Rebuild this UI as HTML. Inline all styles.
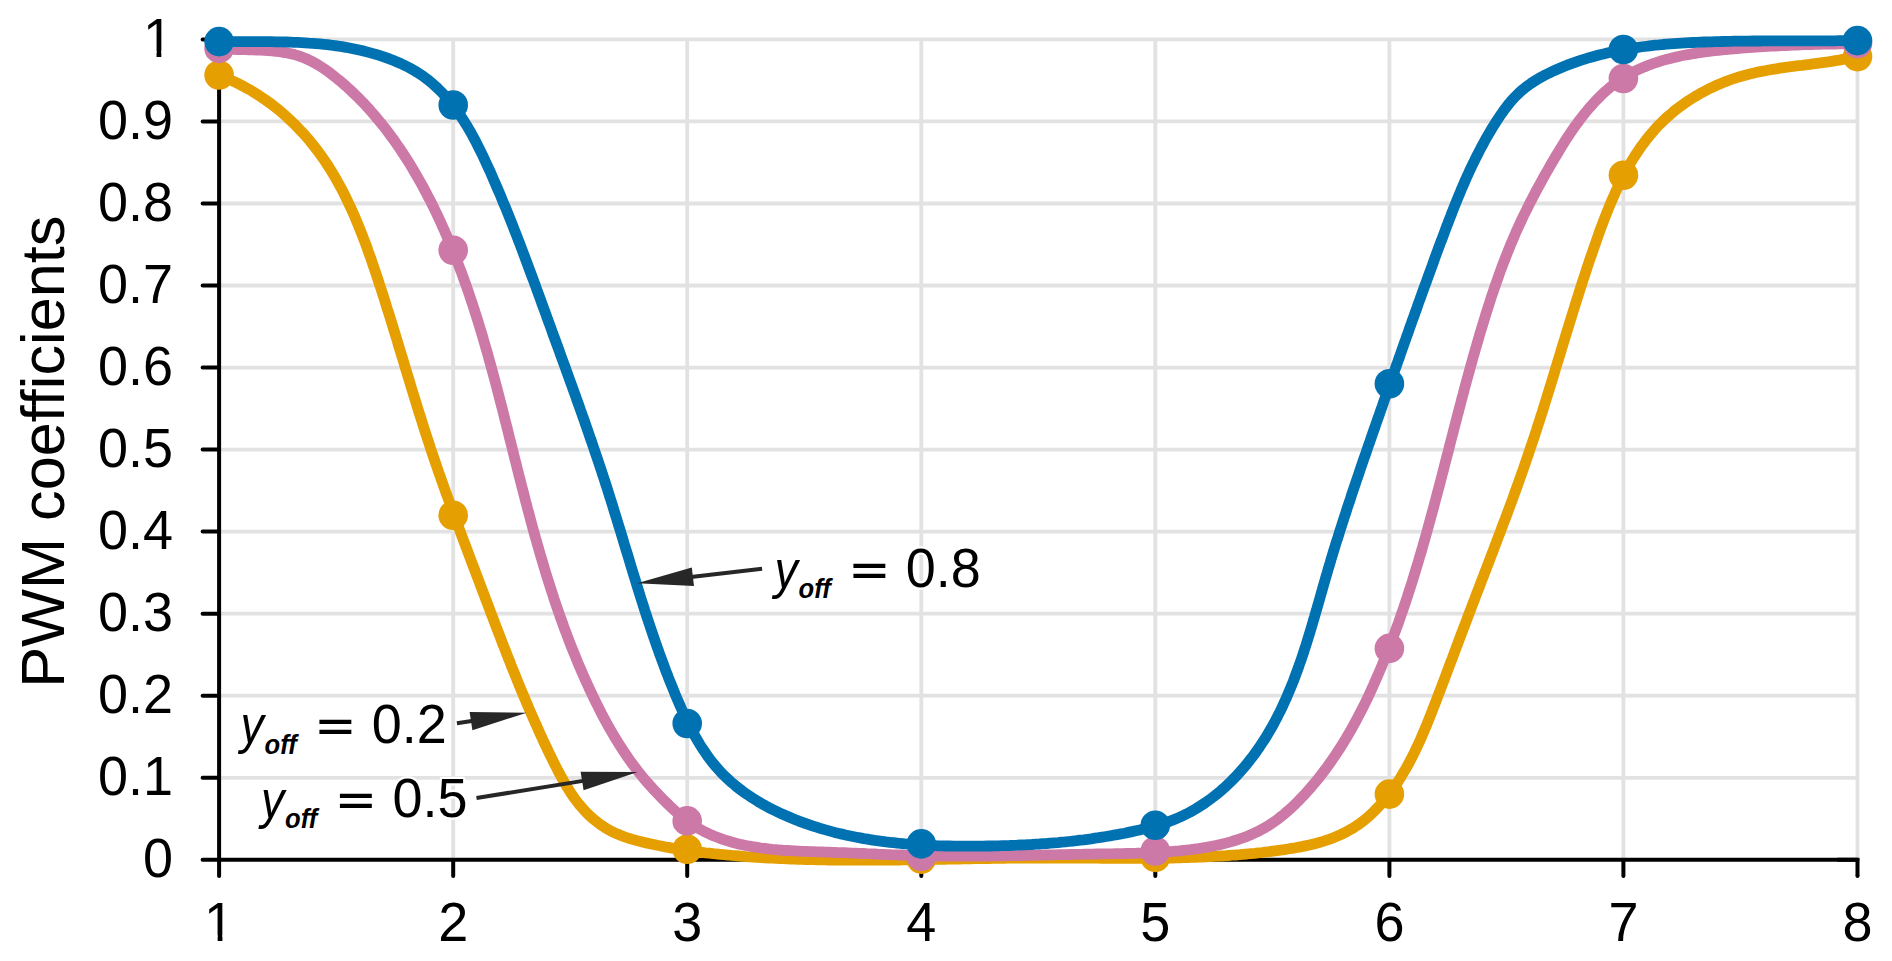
<!DOCTYPE html>
<html><head><meta charset="utf-8"><title>PWM coefficients</title><style>html,body{margin:0;padding:0;background:#fff;overflow:hidden;}svg{display:block;}text{font-family:"Liberation Sans",Arial,Helvetica,sans-serif;}</style></head><body>
<svg width="1892" height="961" viewBox="0 0 1892 961">
<rect width="1892" height="961" fill="#fff"/>
<defs><clipPath id="c1y" clipPathUnits="userSpaceOnUse"><rect x="-5.00" y="-80.00" width="80.00" height="74.17"/><rect x="13.58" y="-80.00" width="4.77" height="85.00"/></clipPath><clipPath id="c1x" clipPathUnits="userSpaceOnUse"><rect x="-5.00" y="-80.00" width="80.00" height="74.17"/><rect x="13.58" y="-80.00" width="4.77" height="85.00"/></clipPath></defs>
<path d="M221.1,777.8H1859.3M221.1,695.7H1859.3M221.1,613.7H1859.3M221.1,531.6H1859.3M221.1,449.6H1859.3M221.1,367.6H1859.3M221.1,285.5H1859.3M221.1,203.5H1859.3M221.1,121.4H1859.3M221.1,39.4H1859.3M453.2,37.6V857.8M687.2,37.6V857.8M921.3,37.6V857.8M1155.3,37.6V857.8M1389.4,37.6V857.8M1623.4,37.6V857.8M1857.5,37.6V857.8" stroke="#e2e2e2" stroke-width="3.8" fill="none"/>
<path d="M219.1,39.4V876.0M202.6,859.8H1857.5M202.6,859.8H219.1M202.6,777.8H219.1M202.6,695.7H219.1M202.6,613.7H219.1M202.6,531.6H219.1M202.6,449.6H219.1M202.6,367.6H219.1M202.6,285.5H219.1M202.6,203.5H219.1M202.6,121.4H219.1M202.6,39.4H219.1M219.1,859.8V876.0M453.2,859.8V876.0M687.2,859.8V876.0M921.3,859.8V876.0M1155.3,859.8V876.0M1389.4,859.8V876.0M1623.4,859.8V876.0" stroke="#000" stroke-width="4" fill="none" stroke-linecap="round"/>
<path d="M1837.5,859.8H1857.5V876.0" stroke="#000" stroke-width="4" fill="none" stroke-linejoin="miter"/>
<circle cx="1857.5" cy="876.0" r="2" fill="#000"/>
<path d="M219.1,75.4 L222.6,76.7 L226.1,78.1 L229.5,79.6 L232.9,81.1 L236.3,82.7 L239.7,84.4 L243.0,86.1 L246.3,87.9 L249.6,89.7 L252.8,91.6 L256.0,93.6 L259.1,95.6 L262.2,97.7 L265.3,99.8 L268.4,102.0 L271.4,104.2 L274.4,106.5 L277.3,108.8 L280.2,111.2 L283.1,113.7 L285.9,116.1 L288.7,118.7 L291.4,121.2 L294.1,123.8 L296.7,126.5 L299.3,129.2 L301.9,131.9 L304.4,134.7 L306.9,137.5 L309.3,140.3 L311.7,143.2 L314.0,146.1 L316.3,149.1 L318.5,152.0 L320.7,155.0 L322.9,158.1 L325.0,161.1 L327.0,164.2 L329.0,167.3 L331.0,170.5 L332.9,173.6 L334.8,176.8 L336.7,180.1 L338.5,183.3 L340.3,186.6 L342.0,189.8 L343.7,193.1 L345.4,196.5 L347.0,199.8 L348.6,203.2 L350.2,206.6 L351.8,210.0 L353.3,213.4 L354.8,216.8 L356.2,220.3 L357.7,223.7 L359.1,227.2 L360.5,230.7 L361.9,234.2 L363.2,237.7 L364.6,241.2 L365.9,244.7 L367.2,248.2 L368.4,251.8 L369.7,255.3 L371.0,258.9 L372.2,262.4 L373.4,266.0 L374.6,269.6 L375.8,273.1 L377.0,276.7 L378.2,280.3 L379.3,283.8 L380.5,287.4 L381.7,291.0 L382.8,294.6 L384.0,298.1 L385.1,301.7 L386.2,305.3 L387.3,308.9 L388.5,312.4 L389.6,316.0 L390.7,319.6 L391.8,323.2 L392.9,326.7 L394.0,330.3 L395.1,333.9 L396.2,337.5 L397.3,341.0 L398.3,344.6 L399.4,348.2 L400.5,351.8 L401.6,355.3 L402.7,358.9 L403.8,362.5 L404.8,366.1 L405.9,369.6 L407.0,373.2 L408.1,376.8 L409.2,380.3 L410.2,383.9 L411.3,387.5 L412.4,391.0 L413.5,394.6 L414.6,398.2 L415.7,401.7 L416.8,405.3 L417.9,408.8 L419.0,412.4 L420.1,415.9 L421.3,419.5 L422.4,423.1 L423.5,426.6 L424.6,430.1 L425.8,433.7 L426.9,437.2 L428.1,440.8 L429.3,444.3 L430.4,447.9 L431.6,451.4 L432.8,454.9 L434.0,458.5 L435.2,462.0 L436.4,465.5 L437.6,469.1 L438.8,472.6 L440.1,476.1 L441.3,479.6 L442.6,483.1 L443.8,486.7 L445.1,490.2 L446.3,493.7 L447.6,497.2 L448.9,500.7 L450.1,504.2 L451.4,507.8 L452.7,511.3 L454.0,514.8 L455.3,518.3 L456.6,521.8 L457.9,525.3 L459.2,528.8 L460.5,532.3 L461.8,535.8 L463.1,539.3 L464.4,542.8 L465.8,546.3 L467.1,549.8 L468.4,553.3 L469.7,556.8 L471.0,560.3 L472.3,563.8 L473.7,567.3 L475.0,570.8 L476.3,574.3 L477.6,577.8 L479.0,581.3 L480.3,584.8 L481.6,588.3 L482.9,591.7 L484.2,595.2 L485.5,598.7 L486.9,602.2 L488.2,605.7 L489.5,609.2 L490.8,612.7 L492.2,616.2 L493.5,619.7 L494.8,623.2 L496.1,626.7 L497.5,630.1 L498.8,633.6 L500.2,637.1 L501.5,640.6 L502.8,644.1 L504.2,647.5 L505.6,651.0 L506.9,654.5 L508.3,658.0 L509.7,661.4 L511.0,664.9 L512.4,668.4 L513.8,671.8 L515.2,675.3 L516.6,678.8 L518.0,682.2 L519.4,685.7 L520.8,689.1 L522.3,692.6 L523.7,696.0 L525.2,699.4 L526.6,702.9 L528.1,706.3 L529.5,709.7 L531.0,713.2 L532.5,716.6 L534.0,720.0 L535.5,723.4 L537.1,726.8 L538.6,730.3 L540.1,733.7 L541.7,737.1 L543.2,740.5 L544.8,743.9 L546.4,747.2 L548.0,750.6 L549.6,754.0 L551.3,757.4 L552.9,760.7 L554.6,764.1 L556.3,767.4 L558.0,770.8 L559.8,774.1 L561.6,777.4 L563.4,780.7 L565.3,783.9 L567.2,787.2 L569.2,790.4 L571.2,793.5 L573.3,796.6 L575.5,799.6 L577.7,802.6 L580.1,805.5 L582.5,808.3 L584.9,811.0 L587.5,813.6 L590.1,816.2 L592.9,818.6 L595.7,820.9 L598.5,823.2 L601.5,825.3 L604.5,827.3 L607.7,829.2 L610.9,830.9 L614.2,832.6 L617.5,834.1 L621.0,835.5 L624.4,836.8 L628.0,838.0 L631.6,839.1 L635.2,840.1 L638.9,841.1 L642.5,842.0 L646.2,842.9 L649.9,843.7 L653.6,844.5 L657.3,845.3 L661.0,846.0 L664.7,846.8 L668.4,847.4 L672.1,848.1 L675.8,848.7 L679.5,849.3 L683.2,849.9 L686.9,850.4 L690.6,850.9 L694.3,851.4 L698.1,851.9 L701.8,852.3 L705.5,852.8 L709.2,853.2 L712.9,853.6 L716.6,854.0 L720.3,854.3 L724.0,854.7 L727.8,855.0 L731.5,855.4 L735.2,855.7 L738.9,856.0 L742.6,856.3 L746.4,856.6 L750.1,856.8 L753.8,857.1 L757.5,857.3 L761.2,857.6 L765.0,857.8 L768.7,858.0 L772.4,858.2 L776.1,858.4 L779.9,858.5 L783.6,858.7 L787.3,858.9 L791.1,859.0 L794.8,859.1 L798.5,859.3 L802.2,859.4 L806.0,859.5 L809.7,859.6 L813.4,859.7 L817.2,859.8 L820.9,859.8 L824.6,859.9 L828.4,860.0 L832.1,860.0 L835.8,860.1 L839.6,860.1 L843.3,860.1 L847.1,860.2 L850.8,860.2 L854.5,860.2 L858.3,860.2 L862.0,860.2 L865.7,860.2 L869.5,860.2 L873.2,860.2 L877.0,860.2 L880.7,860.1 L884.4,860.1 L888.2,860.1 L891.9,860.0 L895.7,860.0 L899.4,860.0 L903.1,859.9 L906.9,859.9 L910.6,859.8 L914.4,859.8 L918.1,859.7 L921.9,859.6 L925.6,859.6 L929.3,859.5 L933.1,859.4 L936.8,859.4 L940.6,859.3 L944.3,859.3 L948.1,859.2 L951.8,859.1 L955.5,859.1 L959.3,859.0 L963.0,858.9 L966.8,858.9 L970.5,858.8 L974.3,858.7 L978.0,858.7 L981.7,858.6 L985.5,858.5 L989.2,858.5 L993.0,858.4 L996.7,858.4 L1000.5,858.3 L1004.2,858.3 L1008.0,858.2 L1011.7,858.2 L1015.4,858.1 L1019.2,858.1 L1022.9,858.1 L1026.7,858.1 L1030.4,858.0 L1034.2,858.0 L1037.9,858.0 L1041.6,858.0 L1045.4,858.0 L1049.1,858.0 L1052.9,858.0 L1056.6,858.0 L1060.3,858.0 L1064.1,858.0 L1067.8,858.1 L1071.6,858.1 L1075.3,858.1 L1079.0,858.1 L1082.8,858.1 L1086.5,858.2 L1090.3,858.2 L1094.0,858.2 L1097.7,858.2 L1101.5,858.3 L1105.2,858.3 L1108.9,858.3 L1112.7,858.3 L1116.4,858.3 L1120.2,858.4 L1123.9,858.4 L1127.6,858.4 L1131.4,858.4 L1135.1,858.4 L1138.8,858.4 L1142.6,858.3 L1146.3,858.3 L1150.0,858.3 L1153.8,858.3 L1157.5,858.2 L1161.2,858.2 L1165.0,858.1 L1168.7,858.0 L1172.4,858.0 L1176.2,857.9 L1179.9,857.8 L1183.6,857.7 L1187.4,857.6 L1191.1,857.4 L1194.8,857.3 L1198.6,857.2 L1202.3,857.0 L1206.0,856.8 L1209.7,856.6 L1213.5,856.4 L1217.2,856.2 L1220.9,856.0 L1224.7,855.8 L1228.4,855.5 L1232.1,855.2 L1235.8,855.0 L1239.6,854.7 L1243.3,854.3 L1247.0,854.0 L1250.7,853.6 L1254.5,853.3 L1258.2,852.9 L1261.9,852.5 L1265.6,852.0 L1269.4,851.6 L1273.1,851.1 L1276.8,850.6 L1280.5,850.1 L1284.3,849.6 L1288.0,849.0 L1291.7,848.4 L1295.4,847.8 L1299.1,847.1 L1302.8,846.4 L1306.5,845.6 L1310.2,844.8 L1313.8,843.9 L1317.4,843.0 L1321.0,842.0 L1324.6,840.8 L1328.2,839.7 L1331.7,838.4 L1335.2,837.0 L1338.6,835.6 L1342.0,834.0 L1345.3,832.4 L1348.6,830.6 L1351.8,828.8 L1354.9,826.9 L1358.0,824.8 L1361.0,822.6 L1364.0,820.4 L1366.8,818.0 L1369.6,815.6 L1372.4,813.0 L1375.0,810.4 L1377.6,807.7 L1380.2,805.0 L1382.6,802.2 L1385.1,799.3 L1387.4,796.4 L1389.7,793.4 L1391.9,790.4 L1394.1,787.4 L1396.2,784.3 L1398.3,781.2 L1400.3,778.0 L1402.2,774.8 L1404.1,771.6 L1406.0,768.4 L1407.8,765.1 L1409.6,761.8 L1411.3,758.5 L1413.0,755.2 L1414.7,751.8 L1416.3,748.4 L1417.9,745.0 L1419.5,741.6 L1421.0,738.2 L1422.5,734.7 L1424.0,731.3 L1425.4,727.8 L1426.9,724.3 L1428.3,720.8 L1429.7,717.3 L1431.1,713.8 L1432.4,710.3 L1433.8,706.8 L1435.2,703.3 L1436.5,699.8 L1437.8,696.3 L1439.2,692.8 L1440.5,689.3 L1441.8,685.8 L1443.2,682.3 L1444.5,678.8 L1445.8,675.3 L1447.1,671.8 L1448.4,668.3 L1449.7,664.8 L1451.0,661.4 L1452.4,657.9 L1453.7,654.4 L1455.0,650.9 L1456.3,647.4 L1457.6,644.0 L1458.9,640.5 L1460.2,637.0 L1461.5,633.5 L1462.8,630.1 L1464.2,626.6 L1465.5,623.1 L1466.8,619.6 L1468.1,616.1 L1469.4,612.7 L1470.8,609.2 L1472.1,605.7 L1473.4,602.2 L1474.8,598.7 L1476.1,595.2 L1477.4,591.7 L1478.8,588.2 L1480.1,584.8 L1481.4,581.3 L1482.8,577.8 L1484.1,574.3 L1485.5,570.8 L1486.8,567.3 L1488.2,563.8 L1489.5,560.3 L1490.8,556.8 L1492.2,553.3 L1493.5,549.8 L1494.8,546.2 L1496.2,542.7 L1497.5,539.2 L1498.8,535.7 L1500.2,532.2 L1501.5,528.7 L1502.8,525.2 L1504.1,521.7 L1505.5,518.2 L1506.8,514.6 L1508.1,511.1 L1509.4,507.6 L1510.7,504.1 L1512.0,500.6 L1513.3,497.0 L1514.5,493.5 L1515.8,490.0 L1517.1,486.5 L1518.4,482.9 L1519.6,479.4 L1520.9,475.9 L1522.1,472.3 L1523.4,468.8 L1524.6,465.3 L1525.8,461.7 L1527.0,458.2 L1528.2,454.7 L1529.4,451.1 L1530.6,447.6 L1531.8,444.1 L1533.0,440.5 L1534.2,437.0 L1535.3,433.4 L1536.5,429.9 L1537.6,426.3 L1538.8,422.8 L1539.9,419.3 L1541.0,415.7 L1542.2,412.2 L1543.3,408.6 L1544.4,405.1 L1545.5,401.5 L1546.6,398.0 L1547.7,394.4 L1548.8,390.9 L1549.9,387.3 L1551.0,383.8 L1552.1,380.2 L1553.2,376.6 L1554.3,373.1 L1555.3,369.5 L1556.4,366.0 L1557.5,362.4 L1558.6,358.9 L1559.7,355.3 L1560.8,351.7 L1561.8,348.2 L1562.9,344.6 L1564.0,341.1 L1565.1,337.5 L1566.2,333.9 L1567.3,330.4 L1568.4,326.8 L1569.5,323.2 L1570.6,319.7 L1571.7,316.1 L1572.8,312.5 L1573.9,309.0 L1575.0,305.4 L1576.1,301.8 L1577.2,298.3 L1578.4,294.7 L1579.5,291.1 L1580.6,287.6 L1581.8,284.0 L1582.9,280.4 L1584.1,276.9 L1585.3,273.3 L1586.5,269.7 L1587.6,266.2 L1588.8,262.6 L1590.0,259.0 L1591.3,255.4 L1592.5,251.9 L1593.7,248.3 L1595.0,244.7 L1596.2,241.2 L1597.5,237.6 L1598.7,234.0 L1600.0,230.5 L1601.3,226.9 L1602.7,223.3 L1604.0,219.8 L1605.4,216.3 L1606.8,212.7 L1608.2,209.2 L1609.6,205.7 L1611.1,202.2 L1612.6,198.8 L1614.1,195.3 L1615.6,191.9 L1617.2,188.5 L1618.8,185.1 L1620.4,181.7 L1622.1,178.4 L1623.8,175.1 L1625.6,171.8 L1627.4,168.5 L1629.2,165.3 L1631.1,162.1 L1633.0,158.9 L1635.0,155.8 L1637.0,152.7 L1639.0,149.7 L1641.1,146.6 L1643.3,143.7 L1645.5,140.7 L1647.8,137.8 L1650.1,135.0 L1652.5,132.2 L1654.9,129.4 L1657.4,126.7 L1659.9,124.1 L1662.6,121.5 L1665.2,118.9 L1668.0,116.4 L1670.8,114.0 L1673.6,111.6 L1676.5,109.3 L1679.5,107.0 L1682.5,104.8 L1685.6,102.6 L1688.7,100.5 L1691.9,98.5 L1695.1,96.5 L1698.4,94.6 L1701.6,92.7 L1705.0,90.9 L1708.3,89.2 L1711.7,87.6 L1715.1,86.0 L1718.6,84.4 L1722.1,83.0 L1725.6,81.6 L1729.1,80.3 L1732.6,79.0 L1736.2,77.8 L1739.8,76.7 L1743.4,75.7 L1747.0,74.7 L1750.6,73.8 L1754.2,72.9 L1757.8,72.1 L1761.5,71.4 L1765.1,70.7 L1768.8,70.0 L1772.5,69.4 L1776.2,68.8 L1779.9,68.2 L1783.6,67.7 L1787.2,67.2 L1791.0,66.7 L1794.7,66.2 L1798.4,65.7 L1802.1,65.3 L1805.8,64.8 L1809.5,64.4 L1813.2,63.9 L1816.9,63.4 L1820.6,62.9 L1824.3,62.4 L1828.0,61.9 L1831.7,61.3 L1835.4,60.7 L1839.1,60.1 L1842.8,59.4 L1846.5,58.7 L1850.1,58.0 L1853.8,57.2 L1857.5,56.3" stroke="#e69f00" stroke-width="10.8" fill="none" stroke-linejoin="round" stroke-linecap="round"/>
<circle cx="219.1" cy="75.0" r="14.8" fill="#e69f00"/>
<circle cx="453.2" cy="515.3" r="14.8" fill="#e69f00"/>
<circle cx="687.2" cy="849.2" r="14.8" fill="#e69f00"/>
<circle cx="921.3" cy="859.1" r="14.8" fill="#e69f00"/>
<circle cx="1155.3" cy="857.4" r="14.8" fill="#e69f00"/>
<circle cx="1389.4" cy="794.1" r="14.8" fill="#e69f00"/>
<circle cx="1623.4" cy="175.3" r="14.8" fill="#e69f00"/>
<circle cx="1857.5" cy="56.6" r="14.8" fill="#e69f00"/>
<path d="M219.0,48.5 L222.6,48.8 L226.2,49.1 L229.9,49.3 L233.6,49.4 L237.4,49.6 L241.2,49.7 L245.0,49.7 L248.9,49.8 L252.7,49.9 L256.6,50.0 L260.5,50.2 L264.3,50.4 L268.2,50.6 L272.0,50.9 L275.8,51.3 L279.6,51.7 L283.4,52.3 L287.1,52.9 L290.8,53.7 L294.4,54.6 L298.0,55.7 L301.5,56.9 L305.0,58.2 L308.4,59.7 L311.7,61.4 L315.0,63.1 L318.2,65.0 L321.4,67.0 L324.5,69.0 L327.5,71.2 L330.6,73.4 L333.5,75.7 L336.5,78.1 L339.4,80.4 L342.3,82.9 L345.1,85.3 L347.9,87.9 L350.7,90.4 L353.4,93.0 L356.1,95.6 L358.8,98.2 L361.4,100.9 L364.0,103.6 L366.6,106.4 L369.1,109.2 L371.6,112.0 L374.1,114.8 L376.5,117.7 L378.9,120.6 L381.3,123.5 L383.7,126.5 L386.0,129.4 L388.3,132.5 L390.5,135.5 L392.8,138.5 L395.0,141.6 L397.1,144.7 L399.3,147.8 L401.4,151.0 L403.5,154.1 L405.5,157.3 L407.6,160.5 L409.6,163.7 L411.6,167.0 L413.5,170.2 L415.4,173.5 L417.3,176.8 L419.2,180.1 L421.1,183.4 L422.9,186.7 L424.7,190.1 L426.5,193.4 L428.2,196.8 L430.0,200.1 L431.7,203.5 L433.4,206.9 L435.0,210.3 L436.7,213.7 L438.3,217.1 L439.9,220.5 L441.4,223.9 L443.0,227.4 L444.5,230.8 L446.0,234.3 L447.5,237.7 L449.0,241.2 L450.5,244.6 L451.9,248.1 L453.3,251.6 L454.7,255.1 L456.1,258.6 L457.5,262.1 L458.8,265.6 L460.1,269.1 L461.5,272.6 L462.8,276.1 L464.0,279.7 L465.3,283.2 L466.6,286.7 L467.8,290.3 L469.0,293.8 L470.2,297.4 L471.4,301.0 L472.6,304.5 L473.8,308.1 L474.9,311.7 L476.1,315.3 L477.2,318.9 L478.3,322.4 L479.4,326.0 L480.5,329.6 L481.6,333.2 L482.7,336.8 L483.7,340.5 L484.8,344.1 L485.8,347.7 L486.9,351.3 L487.9,354.9 L488.9,358.6 L489.9,362.2 L490.9,365.8 L491.9,369.5 L492.9,373.1 L493.9,376.7 L494.9,380.4 L495.8,384.0 L496.8,387.7 L497.7,391.3 L498.7,395.0 L499.6,398.6 L500.6,402.3 L501.5,405.9 L502.5,409.6 L503.4,413.2 L504.3,416.9 L505.2,420.6 L506.2,424.2 L507.1,427.9 L508.0,431.5 L508.9,435.2 L509.8,438.9 L510.8,442.5 L511.7,446.2 L512.6,449.9 L513.5,453.5 L514.4,457.2 L515.3,460.8 L516.3,464.5 L517.2,468.2 L518.1,471.8 L519.0,475.5 L520.0,479.1 L520.9,482.8 L521.8,486.5 L522.8,490.1 L523.7,493.8 L524.7,497.4 L525.6,501.1 L526.6,504.7 L527.5,508.4 L528.5,512.0 L529.5,515.7 L530.4,519.3 L531.4,522.9 L532.4,526.6 L533.4,530.2 L534.4,533.8 L535.4,537.5 L536.5,541.1 L537.5,544.7 L538.5,548.3 L539.6,552.0 L540.6,555.6 L541.7,559.2 L542.8,562.8 L543.8,566.4 L544.9,570.0 L546.0,573.6 L547.1,577.2 L548.3,580.8 L549.4,584.4 L550.5,587.9 L551.7,591.5 L552.9,595.1 L554.0,598.7 L555.2,602.2 L556.4,605.8 L557.6,609.4 L558.9,612.9 L560.1,616.5 L561.4,620.0 L562.7,623.5 L563.9,627.1 L565.2,630.6 L566.6,634.1 L567.9,637.6 L569.2,641.1 L570.6,644.7 L572.0,648.2 L573.4,651.6 L574.8,655.1 L576.2,658.6 L577.6,662.1 L579.1,665.6 L580.6,669.0 L582.1,672.5 L583.6,675.9 L585.1,679.4 L586.7,682.8 L588.3,686.3 L589.8,689.7 L591.5,693.1 L593.1,696.5 L594.7,699.9 L596.4,703.3 L598.1,706.7 L599.8,710.1 L601.5,713.5 L603.3,716.8 L605.1,720.2 L606.9,723.5 L608.7,726.8 L610.6,730.1 L612.5,733.4 L614.4,736.6 L616.4,739.8 L618.3,743.0 L620.4,746.2 L622.4,749.4 L624.5,752.5 L626.6,755.6 L628.7,758.7 L630.9,761.8 L633.1,764.8 L635.3,767.8 L637.6,770.8 L639.9,773.7 L642.3,776.6 L644.7,779.4 L647.1,782.3 L649.5,785.1 L652.1,787.8 L654.6,790.6 L657.2,793.3 L659.8,796.0 L662.4,798.7 L665.1,801.4 L667.8,804.0 L670.5,806.7 L673.3,809.3 L676.1,811.9 L679.0,814.4 L681.9,816.9 L684.8,819.3 L687.9,821.5 L690.9,823.7 L694.0,825.8 L697.2,827.7 L700.5,829.6 L703.7,831.3 L707.1,832.9 L710.4,834.5 L713.8,836.0 L717.3,837.3 L720.8,838.6 L724.3,839.8 L727.8,840.9 L731.4,842.0 L735.0,843.0 L738.7,843.9 L742.3,844.7 L746.0,845.5 L749.7,846.2 L753.5,846.8 L757.2,847.4 L760.9,848.0 L764.7,848.4 L768.5,848.9 L772.2,849.3 L776.0,849.6 L779.8,850.0 L783.6,850.3 L787.3,850.5 L791.1,850.7 L794.9,850.9 L798.7,851.1 L802.5,851.3 L806.2,851.4 L810.0,851.6 L813.8,851.7 L817.6,851.8 L821.4,851.9 L825.2,852.1 L828.9,852.2 L832.7,852.3 L836.5,852.5 L840.3,852.6 L844.0,852.7 L847.8,852.9 L851.6,853.1 L855.4,853.2 L859.1,853.4 L862.9,853.5 L866.7,853.7 L870.4,853.8 L874.2,854.0 L878.0,854.2 L881.7,854.3 L885.5,854.5 L889.3,854.6 L893.0,854.8 L896.8,854.9 L900.5,855.0 L904.3,855.2 L908.1,855.3 L911.8,855.4 L915.6,855.5 L919.4,855.6 L923.1,855.7 L926.9,855.8 L930.6,855.9 L934.4,855.9 L938.2,856.0 L941.9,856.0 L945.7,856.1 L949.5,856.1 L953.2,856.1 L957.0,856.1 L960.8,856.1 L964.5,856.1 L968.3,856.1 L972.1,856.1 L975.8,856.1 L979.6,856.1 L983.4,856.0 L987.1,856.0 L990.9,856.0 L994.7,855.9 L998.4,855.9 L1002.2,855.8 L1006.0,855.8 L1009.7,855.7 L1013.5,855.6 L1017.3,855.6 L1021.1,855.5 L1024.8,855.4 L1028.6,855.4 L1032.4,855.3 L1036.1,855.2 L1039.9,855.1 L1043.7,855.0 L1047.5,855.0 L1051.2,854.9 L1055.0,854.8 L1058.8,854.7 L1062.5,854.7 L1066.3,854.6 L1070.1,854.5 L1073.9,854.4 L1077.6,854.3 L1081.4,854.3 L1085.2,854.2 L1089.0,854.1 L1092.7,854.1 L1096.5,854.0 L1100.3,853.9 L1104.1,853.9 L1107.8,853.8 L1111.6,853.8 L1115.4,853.7 L1119.2,853.6 L1122.9,853.6 L1126.7,853.5 L1130.5,853.4 L1134.3,853.3 L1138.0,853.2 L1141.8,853.1 L1145.6,853.0 L1149.3,852.8 L1153.1,852.6 L1156.9,852.5 L1160.6,852.2 L1164.4,852.0 L1168.2,851.8 L1171.9,851.5 L1175.7,851.1 L1179.4,850.8 L1183.2,850.4 L1186.9,850.0 L1190.7,849.6 L1194.4,849.1 L1198.2,848.6 L1201.9,848.0 L1205.7,847.4 L1209.4,846.7 L1213.1,846.0 L1216.8,845.3 L1220.5,844.4 L1224.1,843.6 L1227.8,842.6 L1231.4,841.6 L1235.0,840.5 L1238.5,839.4 L1242.1,838.2 L1245.6,836.9 L1249.0,835.5 L1252.5,834.0 L1255.8,832.4 L1259.2,830.8 L1262.5,829.0 L1265.7,827.2 L1268.9,825.3 L1272.0,823.2 L1275.1,821.1 L1278.2,818.9 L1281.1,816.5 L1284.1,814.2 L1287.0,811.7 L1289.8,809.2 L1292.6,806.6 L1295.4,804.0 L1298.1,801.3 L1300.7,798.5 L1303.4,795.8 L1305.9,793.0 L1308.5,790.1 L1311.0,787.3 L1313.4,784.4 L1315.9,781.5 L1318.3,778.6 L1320.6,775.6 L1322.9,772.6 L1325.2,769.6 L1327.4,766.6 L1329.6,763.5 L1331.8,760.4 L1333.9,757.3 L1336.0,754.2 L1338.1,751.0 L1340.2,747.9 L1342.2,744.7 L1344.1,741.5 L1346.1,738.3 L1348.0,735.0 L1349.9,731.8 L1351.8,728.5 L1353.6,725.2 L1355.4,721.9 L1357.2,718.6 L1358.9,715.2 L1360.7,711.9 L1362.4,708.5 L1364.1,705.1 L1365.7,701.8 L1367.4,698.4 L1369.0,695.0 L1370.6,691.5 L1372.1,688.1 L1373.7,684.7 L1375.2,681.2 L1376.7,677.8 L1378.2,674.3 L1379.7,670.9 L1381.2,667.4 L1382.6,663.9 L1384.0,660.4 L1385.5,657.0 L1386.9,653.5 L1388.2,650.0 L1389.6,646.5 L1391.0,643.0 L1392.3,639.4 L1393.6,635.9 L1394.9,632.4 L1396.2,628.9 L1397.5,625.3 L1398.8,621.8 L1400.0,618.3 L1401.2,614.7 L1402.5,611.2 L1403.7,607.6 L1404.9,604.0 L1406.1,600.5 L1407.3,596.9 L1408.4,593.3 L1409.6,589.8 L1410.7,586.2 L1411.9,582.6 L1413.0,579.0 L1414.1,575.4 L1415.2,571.8 L1416.3,568.2 L1417.4,564.6 L1418.5,561.0 L1419.5,557.4 L1420.6,553.8 L1421.7,550.2 L1422.7,546.6 L1423.7,543.0 L1424.8,539.4 L1425.8,535.7 L1426.8,532.1 L1427.8,528.5 L1428.8,524.8 L1429.8,521.2 L1430.8,517.6 L1431.8,513.9 L1432.8,510.3 L1433.8,506.7 L1434.7,503.0 L1435.7,499.4 L1436.7,495.7 L1437.6,492.1 L1438.6,488.4 L1439.6,484.8 L1440.5,481.1 L1441.5,477.5 L1442.4,473.8 L1443.4,470.2 L1444.3,466.5 L1445.2,462.9 L1446.2,459.2 L1447.1,455.6 L1448.1,451.9 L1449.0,448.2 L1449.9,444.6 L1450.9,440.9 L1451.8,437.3 L1452.8,433.6 L1453.7,429.9 L1454.7,426.3 L1455.6,422.6 L1456.6,419.0 L1457.5,415.3 L1458.5,411.7 L1459.4,408.0 L1460.4,404.3 L1461.3,400.7 L1462.3,397.0 L1463.3,393.4 L1464.2,389.7 L1465.2,386.1 L1466.2,382.4 L1467.2,378.8 L1468.2,375.1 L1469.2,371.5 L1470.2,367.8 L1471.2,364.2 L1472.2,360.6 L1473.2,356.9 L1474.3,353.3 L1475.3,349.6 L1476.4,346.0 L1477.4,342.4 L1478.5,338.8 L1479.5,335.1 L1480.6,331.5 L1481.7,327.9 L1482.8,324.3 L1483.9,320.6 L1485.0,317.0 L1486.1,313.4 L1487.3,309.8 L1488.4,306.2 L1489.6,302.6 L1490.7,299.0 L1491.9,295.4 L1493.1,291.9 L1494.3,288.3 L1495.6,284.7 L1496.8,281.2 L1498.1,277.6 L1499.3,274.1 L1500.6,270.5 L1501.9,267.0 L1503.2,263.5 L1504.6,260.0 L1505.9,256.5 L1507.3,253.0 L1508.7,249.5 L1510.1,246.1 L1511.5,242.6 L1513.0,239.2 L1514.5,235.7 L1515.9,232.3 L1517.5,228.9 L1519.0,225.5 L1520.6,222.2 L1522.1,218.8 L1523.7,215.5 L1525.4,212.1 L1527.0,208.8 L1528.7,205.5 L1530.3,202.1 L1532.1,198.8 L1533.8,195.5 L1535.5,192.2 L1537.3,188.9 L1539.1,185.6 L1540.9,182.3 L1542.7,179.0 L1544.5,175.7 L1546.4,172.4 L1548.3,169.1 L1550.2,165.8 L1552.1,162.5 L1554.0,159.2 L1556.0,155.9 L1558.0,152.6 L1560.0,149.3 L1562.0,146.0 L1564.0,142.7 L1566.1,139.4 L1568.2,136.2 L1570.4,133.0 L1572.5,129.8 L1574.7,126.7 L1577.0,123.6 L1579.2,120.5 L1581.6,117.5 L1583.9,114.5 L1586.3,111.5 L1588.7,108.6 L1591.2,105.8 L1593.7,103.0 L1596.3,100.2 L1598.9,97.6 L1601.5,95.0 L1604.2,92.4 L1607.0,90.0 L1609.8,87.6 L1612.7,85.3 L1615.6,83.1 L1618.6,80.9 L1621.6,78.9 L1624.7,76.9 L1627.8,75.0 L1631.0,73.2 L1634.3,71.5 L1637.6,69.9 L1641.0,68.4 L1644.4,66.9 L1647.8,65.5 L1651.3,64.2 L1654.8,63.0 L1658.4,61.8 L1662.0,60.7 L1665.6,59.6 L1669.3,58.7 L1672.9,57.7 L1676.7,56.9 L1680.4,56.0 L1684.1,55.3 L1687.9,54.6 L1691.7,53.9 L1695.5,53.3 L1699.3,52.7 L1703.1,52.1 L1707.0,51.6 L1710.8,51.1 L1714.6,50.7 L1718.5,50.3 L1722.3,49.9 L1726.1,49.5 L1729.9,49.2 L1733.7,48.8 L1737.5,48.5 L1741.3,48.2 L1745.1,47.9 L1748.8,47.7 L1752.5,47.4 L1756.3,47.1 L1760.0,46.9 L1763.7,46.7 L1767.4,46.4 L1771.1,46.2 L1774.8,46.0 L1778.4,45.8 L1782.1,45.6 L1785.8,45.5 L1789.5,45.3 L1793.2,45.2 L1796.9,45.0 L1800.5,44.9 L1804.3,44.7 L1808.0,44.6 L1811.7,44.5 L1815.4,44.4 L1819.2,44.3 L1822.9,44.2 L1826.7,44.1 L1830.5,44.0 L1834.3,44.0 L1838.2,43.9 L1842.1,43.8 L1845.9,43.8 L1849.9,43.7 L1853.8,43.7 L1857.8,43.7" stroke="#cc79a7" stroke-width="10.8" fill="none" stroke-linejoin="round" stroke-linecap="round"/>
<circle cx="219.1" cy="48.4" r="14.8" fill="#cc79a7"/>
<circle cx="453.2" cy="250.2" r="14.8" fill="#cc79a7"/>
<circle cx="687.2" cy="820.9" r="14.8" fill="#cc79a7"/>
<circle cx="921.3" cy="856.4" r="14.8" fill="#cc79a7"/>
<circle cx="1155.3" cy="851.0" r="14.8" fill="#cc79a7"/>
<circle cx="1389.4" cy="648.4" r="14.8" fill="#cc79a7"/>
<circle cx="1623.4" cy="78.5" r="14.8" fill="#cc79a7"/>
<circle cx="1857.5" cy="43.6" r="14.8" fill="#cc79a7"/>
<path d="M219.0,41.5 L222.7,41.5 L226.5,41.6 L230.3,41.6 L234.0,41.6 L237.8,41.6 L241.5,41.6 L245.3,41.6 L249.1,41.6 L252.8,41.6 L256.6,41.6 L260.3,41.7 L264.1,41.7 L267.8,41.7 L271.6,41.7 L275.3,41.8 L279.0,41.8 L282.8,41.9 L286.5,42.0 L290.2,42.1 L294.0,42.3 L297.7,42.4 L301.4,42.6 L305.1,42.8 L308.8,43.1 L312.5,43.3 L316.2,43.6 L320.0,43.9 L323.7,44.3 L327.3,44.7 L331.0,45.2 L334.7,45.6 L338.4,46.2 L342.1,46.7 L345.8,47.3 L349.4,48.0 L353.1,48.7 L356.8,49.5 L360.4,50.3 L364.1,51.1 L367.7,52.1 L371.4,53.1 L375.0,54.1 L378.6,55.2 L382.3,56.4 L385.9,57.6 L389.5,58.9 L393.0,60.3 L396.5,61.7 L400.0,63.2 L403.5,64.8 L406.9,66.5 L410.2,68.2 L413.5,70.1 L416.7,72.0 L419.8,74.0 L422.9,76.0 L425.8,78.2 L428.7,80.4 L431.6,82.8 L434.3,85.2 L437.0,87.6 L439.6,90.2 L442.2,92.8 L444.7,95.5 L447.1,98.2 L449.5,101.0 L451.8,103.9 L454.1,106.8 L456.3,109.7 L458.4,112.8 L460.5,115.8 L462.6,118.9 L464.6,122.1 L466.6,125.3 L468.5,128.5 L470.4,131.7 L472.2,135.0 L474.0,138.4 L475.8,141.7 L477.5,145.1 L479.2,148.5 L480.9,151.9 L482.6,155.3 L484.2,158.8 L485.8,162.2 L487.4,165.7 L489.0,169.1 L490.6,172.6 L492.1,176.1 L493.6,179.6 L495.1,183.0 L496.6,186.5 L498.1,190.0 L499.6,193.4 L501.1,196.9 L502.5,200.4 L503.9,203.9 L505.4,207.3 L506.8,210.8 L508.2,214.3 L509.6,217.8 L511.0,221.2 L512.4,224.7 L513.7,228.2 L515.1,231.7 L516.5,235.2 L517.8,238.6 L519.1,242.1 L520.5,245.6 L521.8,249.1 L523.1,252.6 L524.4,256.0 L525.7,259.5 L527.0,263.0 L528.3,266.5 L529.6,270.0 L530.9,273.5 L532.2,277.0 L533.5,280.4 L534.8,283.9 L536.1,287.4 L537.3,290.9 L538.6,294.4 L539.9,297.9 L541.2,301.4 L542.4,304.9 L543.7,308.4 L545.0,311.9 L546.3,315.4 L547.5,318.9 L548.8,322.4 L550.1,325.9 L551.4,329.5 L552.6,333.0 L553.9,336.5 L555.2,340.0 L556.5,343.5 L557.8,347.0 L559.1,350.5 L560.3,354.1 L561.6,357.6 L562.9,361.1 L564.2,364.6 L565.5,368.2 L566.7,371.7 L568.0,375.2 L569.3,378.8 L570.6,382.3 L571.9,385.8 L573.1,389.4 L574.4,392.9 L575.7,396.4 L576.9,400.0 L578.2,403.5 L579.5,407.1 L580.7,410.6 L582.0,414.1 L583.2,417.7 L584.5,421.2 L585.7,424.8 L586.9,428.3 L588.2,431.9 L589.4,435.4 L590.6,439.0 L591.9,442.5 L593.1,446.1 L594.3,449.7 L595.5,453.2 L596.7,456.8 L597.9,460.3 L599.1,463.9 L600.3,467.5 L601.5,471.0 L602.6,474.6 L603.8,478.1 L605.0,481.7 L606.1,485.3 L607.3,488.8 L608.4,492.4 L609.5,496.0 L610.7,499.6 L611.8,503.1 L612.9,506.7 L614.0,510.3 L615.1,513.8 L616.2,517.4 L617.3,521.0 L618.4,524.6 L619.5,528.1 L620.6,531.7 L621.7,535.3 L622.8,538.9 L623.8,542.4 L624.9,546.0 L626.0,549.6 L627.1,553.2 L628.2,556.7 L629.3,560.3 L630.3,563.9 L631.4,567.4 L632.5,571.0 L633.6,574.6 L634.7,578.1 L635.8,581.7 L636.9,585.3 L638.0,588.8 L639.1,592.4 L640.2,596.0 L641.3,599.5 L642.5,603.1 L643.6,606.6 L644.7,610.2 L645.9,613.7 L647.0,617.3 L648.2,620.8 L649.4,624.4 L650.6,627.9 L651.8,631.4 L653.0,635.0 L654.2,638.5 L655.4,642.0 L656.6,645.6 L657.9,649.1 L659.1,652.6 L660.4,656.1 L661.7,659.6 L663.0,663.2 L664.3,666.7 L665.6,670.2 L667.0,673.7 L668.3,677.2 L669.7,680.7 L671.1,684.1 L672.5,687.6 L673.9,691.1 L675.3,694.6 L676.8,698.1 L678.3,701.5 L679.8,705.0 L681.3,708.4 L682.8,711.9 L684.4,715.3 L686.0,718.7 L687.7,722.1 L689.3,725.5 L691.0,728.8 L692.8,732.1 L694.6,735.4 L696.4,738.6 L698.3,741.8 L700.2,745.0 L702.2,748.2 L704.3,751.2 L706.4,754.3 L708.5,757.3 L710.7,760.2 L713.0,763.1 L715.4,766.0 L717.8,768.8 L720.2,771.5 L722.8,774.2 L725.4,776.8 L728.1,779.3 L730.8,781.8 L733.7,784.2 L736.5,786.6 L739.5,788.9 L742.4,791.1 L745.5,793.3 L748.6,795.4 L751.7,797.5 L754.9,799.5 L758.1,801.5 L761.3,803.4 L764.6,805.2 L767.9,807.1 L771.3,808.8 L774.7,810.5 L778.1,812.2 L781.5,813.8 L785.0,815.3 L788.4,816.8 L791.9,818.3 L795.4,819.7 L798.9,821.1 L802.4,822.4 L806.0,823.7 L809.5,824.9 L813.1,826.1 L816.6,827.2 L820.2,828.3 L823.8,829.4 L827.4,830.4 L831.0,831.4 L834.6,832.4 L838.2,833.3 L841.9,834.1 L845.5,835.0 L849.2,835.8 L852.8,836.5 L856.5,837.2 L860.2,837.9 L863.8,838.6 L867.5,839.2 L871.2,839.8 L874.9,840.4 L878.6,840.9 L882.3,841.4 L886.1,841.9 L889.8,842.3 L893.5,842.7 L897.2,843.1 L901.0,843.5 L904.7,843.8 L908.4,844.1 L912.2,844.4 L915.9,844.6 L919.7,844.9 L923.4,845.1 L927.2,845.3 L930.9,845.5 L934.7,845.6 L938.5,845.8 L942.2,845.9 L946.0,846.0 L949.7,846.0 L953.5,846.1 L957.2,846.2 L961.0,846.2 L964.8,846.2 L968.5,846.2 L972.3,846.2 L976.0,846.2 L979.8,846.1 L983.5,846.1 L987.2,846.0 L991.0,846.0 L994.7,845.9 L998.5,845.8 L1002.2,845.7 L1005.9,845.6 L1009.6,845.5 L1013.4,845.3 L1017.1,845.2 L1020.8,845.0 L1024.5,844.9 L1028.2,844.7 L1031.9,844.5 L1035.7,844.2 L1039.4,844.0 L1043.1,843.7 L1046.8,843.5 L1050.5,843.2 L1054.2,842.9 L1057.9,842.6 L1061.6,842.2 L1065.3,841.9 L1069.0,841.5 L1072.7,841.1 L1076.4,840.7 L1080.1,840.2 L1083.8,839.8 L1087.6,839.3 L1091.3,838.8 L1095.0,838.2 L1098.7,837.7 L1102.4,837.1 L1106.1,836.5 L1109.8,835.9 L1113.5,835.2 L1117.2,834.6 L1121.0,833.9 L1124.7,833.2 L1128.4,832.4 L1132.1,831.6 L1135.8,830.8 L1139.6,830.0 L1143.3,829.1 L1147.0,828.2 L1150.7,827.2 L1154.3,826.2 L1158.0,825.1 L1161.6,824.0 L1165.2,822.8 L1168.7,821.6 L1172.3,820.2 L1175.8,818.9 L1179.2,817.4 L1182.6,815.8 L1186.0,814.2 L1189.3,812.5 L1192.5,810.7 L1195.7,808.9 L1198.9,806.9 L1202.0,804.9 L1205.1,802.9 L1208.2,800.7 L1211.2,798.5 L1214.1,796.3 L1217.0,794.0 L1219.9,791.6 L1222.7,789.2 L1225.5,786.7 L1228.2,784.1 L1230.8,781.6 L1233.5,778.9 L1236.1,776.2 L1238.6,773.5 L1241.1,770.7 L1243.6,767.9 L1246.0,765.0 L1248.3,762.1 L1250.6,759.2 L1252.9,756.2 L1255.1,753.2 L1257.3,750.1 L1259.4,747.1 L1261.5,743.9 L1263.6,740.8 L1265.6,737.7 L1267.5,734.5 L1269.4,731.3 L1271.3,728.1 L1273.1,724.8 L1274.9,721.5 L1276.6,718.3 L1278.3,714.9 L1280.0,711.6 L1281.6,708.3 L1283.2,704.9 L1284.7,701.5 L1286.3,698.2 L1287.7,694.7 L1289.2,691.3 L1290.6,687.9 L1292.0,684.4 L1293.4,681.0 L1294.7,677.5 L1296.0,674.0 L1297.3,670.5 L1298.6,667.0 L1299.8,663.4 L1301.1,659.9 L1302.3,656.3 L1303.5,652.8 L1304.6,649.2 L1305.8,645.6 L1306.9,642.1 L1308.0,638.5 L1309.1,634.9 L1310.2,631.3 L1311.3,627.7 L1312.4,624.1 L1313.4,620.4 L1314.5,616.8 L1315.5,613.2 L1316.6,609.6 L1317.6,606.0 L1318.7,602.3 L1319.7,598.7 L1320.7,595.1 L1321.8,591.4 L1322.8,587.8 L1323.8,584.2 L1324.9,580.6 L1325.9,576.9 L1327.0,573.3 L1328.0,569.7 L1329.1,566.1 L1330.2,562.5 L1331.2,558.9 L1332.3,555.3 L1333.4,551.7 L1334.5,548.1 L1335.6,544.5 L1336.7,540.9 L1337.9,537.4 L1339.0,533.8 L1340.1,530.2 L1341.3,526.6 L1342.4,523.1 L1343.6,519.5 L1344.7,515.9 L1345.9,512.4 L1347.0,508.8 L1348.2,505.3 L1349.4,501.7 L1350.6,498.2 L1351.7,494.6 L1352.9,491.1 L1354.1,487.5 L1355.3,484.0 L1356.5,480.4 L1357.7,476.9 L1358.9,473.4 L1360.1,469.8 L1361.3,466.3 L1362.5,462.8 L1363.7,459.2 L1365.0,455.7 L1366.2,452.2 L1367.4,448.6 L1368.6,445.1 L1369.9,441.6 L1371.1,438.1 L1372.3,434.5 L1373.5,431.0 L1374.8,427.5 L1376.0,423.9 L1377.2,420.4 L1378.5,416.9 L1379.7,413.4 L1380.9,409.8 L1382.2,406.3 L1383.4,402.8 L1384.6,399.3 L1385.9,395.7 L1387.1,392.2 L1388.3,388.7 L1389.6,385.2 L1390.8,381.6 L1392.0,378.1 L1393.3,374.6 L1394.5,371.1 L1395.7,367.5 L1397.0,364.0 L1398.2,360.5 L1399.5,357.0 L1400.7,353.4 L1401.9,349.9 L1403.2,346.4 L1404.4,342.8 L1405.7,339.3 L1406.9,335.8 L1408.2,332.3 L1409.4,328.7 L1410.7,325.2 L1411.9,321.7 L1413.2,318.2 L1414.5,314.6 L1415.7,311.1 L1417.0,307.6 L1418.2,304.1 L1419.5,300.5 L1420.8,297.0 L1422.0,293.5 L1423.3,289.9 L1424.6,286.4 L1425.9,282.9 L1427.1,279.4 L1428.4,275.8 L1429.7,272.3 L1431.0,268.8 L1432.3,265.3 L1433.6,261.7 L1434.8,258.2 L1436.1,254.7 L1437.4,251.2 L1438.7,247.6 L1440.0,244.1 L1441.4,240.6 L1442.7,237.1 L1444.0,233.6 L1445.3,230.0 L1446.6,226.5 L1448.0,223.0 L1449.3,219.5 L1450.7,216.0 L1452.0,212.5 L1453.4,209.0 L1454.8,205.5 L1456.2,202.0 L1457.6,198.5 L1459.0,195.1 L1460.5,191.6 L1461.9,188.1 L1463.4,184.7 L1464.9,181.3 L1466.4,177.8 L1468.0,174.4 L1469.5,171.0 L1471.1,167.6 L1472.7,164.2 L1474.4,160.9 L1476.0,157.5 L1477.7,154.2 L1479.4,150.9 L1481.1,147.6 L1482.9,144.3 L1484.7,141.0 L1486.5,137.7 L1488.4,134.5 L1490.3,131.3 L1492.2,128.0 L1494.2,124.9 L1496.2,121.7 L1498.2,118.6 L1500.3,115.4 L1502.5,112.4 L1504.6,109.3 L1506.9,106.4 L1509.2,103.4 L1511.6,100.6 L1514.1,97.8 L1516.7,95.2 L1519.3,92.6 L1522.1,90.2 L1525.0,87.8 L1527.9,85.6 L1531.0,83.4 L1534.1,81.4 L1537.3,79.4 L1540.5,77.5 L1543.8,75.7 L1547.2,74.0 L1550.6,72.3 L1554.0,70.7 L1557.4,69.2 L1560.9,67.7 L1564.4,66.2 L1567.8,64.9 L1571.3,63.6 L1574.9,62.3 L1578.4,61.1 L1582.0,59.9 L1585.5,58.8 L1589.1,57.7 L1592.7,56.7 L1596.3,55.7 L1599.9,54.7 L1603.5,53.9 L1607.2,53.0 L1610.8,52.2 L1614.5,51.4 L1618.1,50.7 L1621.8,50.0 L1625.5,49.3 L1629.2,48.7 L1632.9,48.1 L1636.6,47.6 L1640.3,47.0 L1644.1,46.5 L1647.8,46.1 L1651.5,45.6 L1655.3,45.2 L1659.0,44.9 L1662.7,44.5 L1666.5,44.2 L1670.3,43.9 L1674.0,43.6 L1677.8,43.3 L1681.5,43.1 L1685.3,42.9 L1689.1,42.7 L1692.8,42.5 L1696.6,42.3 L1700.3,42.1 L1704.1,42.0 L1707.8,41.9 L1711.6,41.8 L1715.4,41.7 L1719.1,41.6 L1722.8,41.5 L1726.6,41.4 L1730.3,41.3 L1734.1,41.2 L1737.8,41.2 L1741.5,41.1 L1745.3,41.1 L1749.0,41.1 L1752.7,41.0 L1756.4,41.0 L1760.2,41.0 L1763.9,40.9 L1767.6,40.9 L1771.3,40.9 L1775.0,40.9 L1778.8,40.9 L1782.5,40.9 L1786.2,40.9 L1789.9,40.9 L1793.7,40.9 L1797.4,40.9 L1801.1,40.9 L1804.9,40.9 L1808.6,40.9 L1812.4,40.8 L1816.1,40.8 L1819.8,40.8 L1823.6,40.8 L1827.4,40.8 L1831.1,40.8 L1834.9,40.8 L1838.7,40.7 L1842.4,40.7 L1846.2,40.7 L1850.0,40.6 L1853.8,40.6 L1857.6,40.5" stroke="#0072b2" stroke-width="10.8" fill="none" stroke-linejoin="round" stroke-linecap="round"/>
<circle cx="219.1" cy="41.6" r="14.8" fill="#0072b2"/>
<circle cx="453.2" cy="105.0" r="14.8" fill="#0072b2"/>
<circle cx="687.2" cy="723.5" r="14.8" fill="#0072b2"/>
<circle cx="921.3" cy="843.9" r="14.8" fill="#0072b2"/>
<circle cx="1155.3" cy="825.2" r="14.8" fill="#0072b2"/>
<circle cx="1389.4" cy="383.7" r="14.8" fill="#0072b2"/>
<circle cx="1623.4" cy="49.5" r="14.8" fill="#0072b2"/>
<circle cx="1857.5" cy="40.6" r="14.8" fill="#0072b2"/>
<g font-size="54" fill="#000"><text transform="translate(173,877.30) scale(1,1.025)" text-anchor="end">0</text><text transform="translate(173,795.26) scale(1,1.025)" text-anchor="end">0.1</text><text transform="translate(173,713.22) scale(1,1.025)" text-anchor="end">0.2</text><text transform="translate(173,631.18) scale(1,1.025)" text-anchor="end">0.3</text><text transform="translate(173,549.14) scale(1,1.025)" text-anchor="end">0.4</text><text transform="translate(173,467.10) scale(1,1.025)" text-anchor="end">0.5</text><text transform="translate(173,385.06) scale(1,1.025)" text-anchor="end">0.6</text><text transform="translate(173,303.02) scale(1,1.025)" text-anchor="end">0.7</text><text transform="translate(173,220.98) scale(1,1.025)" text-anchor="end">0.8</text><text transform="translate(173,138.94) scale(1,1.025)" text-anchor="end">0.9</text><g transform="translate(142.97,56.90) scale(1,1.025)"><text x="0" y="0" clip-path="url(#c1y)">1</text></g><g transform="translate(204.08,941.30) scale(1,1.025)"><text x="0" y="0" clip-path="url(#c1x)">1</text></g><text transform="translate(453.16,941.30) scale(1,1.025)" text-anchor="middle">2</text><text transform="translate(687.21,941.30) scale(1,1.025)" text-anchor="middle">3</text><text transform="translate(921.27,941.30) scale(1,1.025)" text-anchor="middle">4</text><text transform="translate(1155.33,941.30) scale(1,1.025)" text-anchor="middle">5</text><text transform="translate(1389.39,941.30) scale(1,1.025)" text-anchor="middle">6</text><text transform="translate(1623.44,941.30) scale(1,1.025)" text-anchor="middle">7</text><text transform="translate(1857.50,941.30) scale(1,1.025)" text-anchor="middle">8</text></g>
<text transform="translate(64.2,687.8) rotate(-90) scale(1,1.01)" font-size="61.3" fill="#000">PWM coefficients</text>
<path d="M762.1,568.7L688.9,577.2" stroke="#272727" stroke-width="4" fill="none"/><path d="M637.0,583.3L691.8,567.5L694.0,586.0Z" fill="#272727"/>
<path d="M456.9,723.3L475.0,720.6" stroke="#272727" stroke-width="4" fill="none"/><path d="M526.7,712.7L472.4,730.3L469.6,712.0Z" fill="#272727"/>
<path d="M476.5,798.0L586.1,780.4" stroke="#272727" stroke-width="4" fill="none"/><path d="M637.7,772.1L583.6,790.2L580.6,771.8Z" fill="#272727"/>
<g transform="translate(0.0,0.0)" fill="#000"><text transform="translate(774.5,587.7) scale(0.863,1)" font-size="54" font-style="italic" stroke="#fff" stroke-width="4.5" stroke-linejoin="round" paint-order="stroke">y</text><text transform="translate(798.5,598.3) scale(0.95,1)" font-size="27" font-style="italic" font-weight="bold" stroke="#fff" stroke-width="4.5" stroke-linejoin="round" paint-order="stroke">off</text><text x="847.9" y="587.1" font-size="51" style="font-family:'DejaVu Sans',sans-serif" stroke="#fff" stroke-width="4.5" stroke-linejoin="round" paint-order="stroke">=</text><text transform="translate(905.8,587.4) scale(1,1.025)" font-size="54" stroke="#fff" stroke-width="4.5" stroke-linejoin="round" paint-order="stroke">0.8</text></g>
<g transform="translate(-534.0,155.5)" fill="#000"><text transform="translate(774.5,587.7) scale(0.863,1)" font-size="54" font-style="italic" stroke="#fff" stroke-width="4.5" stroke-linejoin="round" paint-order="stroke">y</text><text transform="translate(798.5,598.3) scale(0.95,1)" font-size="27" font-style="italic" font-weight="bold" stroke="#fff" stroke-width="4.5" stroke-linejoin="round" paint-order="stroke">off</text><text x="847.9" y="587.1" font-size="51" style="font-family:'DejaVu Sans',sans-serif" stroke="#fff" stroke-width="4.5" stroke-linejoin="round" paint-order="stroke">=</text><text transform="translate(905.8,587.4) scale(1,1.025)" font-size="54" stroke="#fff" stroke-width="4.5" stroke-linejoin="round" paint-order="stroke">0.2</text></g>
<g transform="translate(-513.4,229.9)" fill="#000"><text transform="translate(774.5,587.7) scale(0.863,1)" font-size="54" font-style="italic" stroke="#fff" stroke-width="4.5" stroke-linejoin="round" paint-order="stroke">y</text><text transform="translate(798.5,598.3) scale(0.95,1)" font-size="27" font-style="italic" font-weight="bold" stroke="#fff" stroke-width="4.5" stroke-linejoin="round" paint-order="stroke">off</text><text x="847.9" y="587.1" font-size="51" style="font-family:'DejaVu Sans',sans-serif" stroke="#fff" stroke-width="4.5" stroke-linejoin="round" paint-order="stroke">=</text><text transform="translate(905.8,587.4) scale(1,1.025)" font-size="54" stroke="#fff" stroke-width="4.5" stroke-linejoin="round" paint-order="stroke">0.5</text></g>
</svg></body></html>
